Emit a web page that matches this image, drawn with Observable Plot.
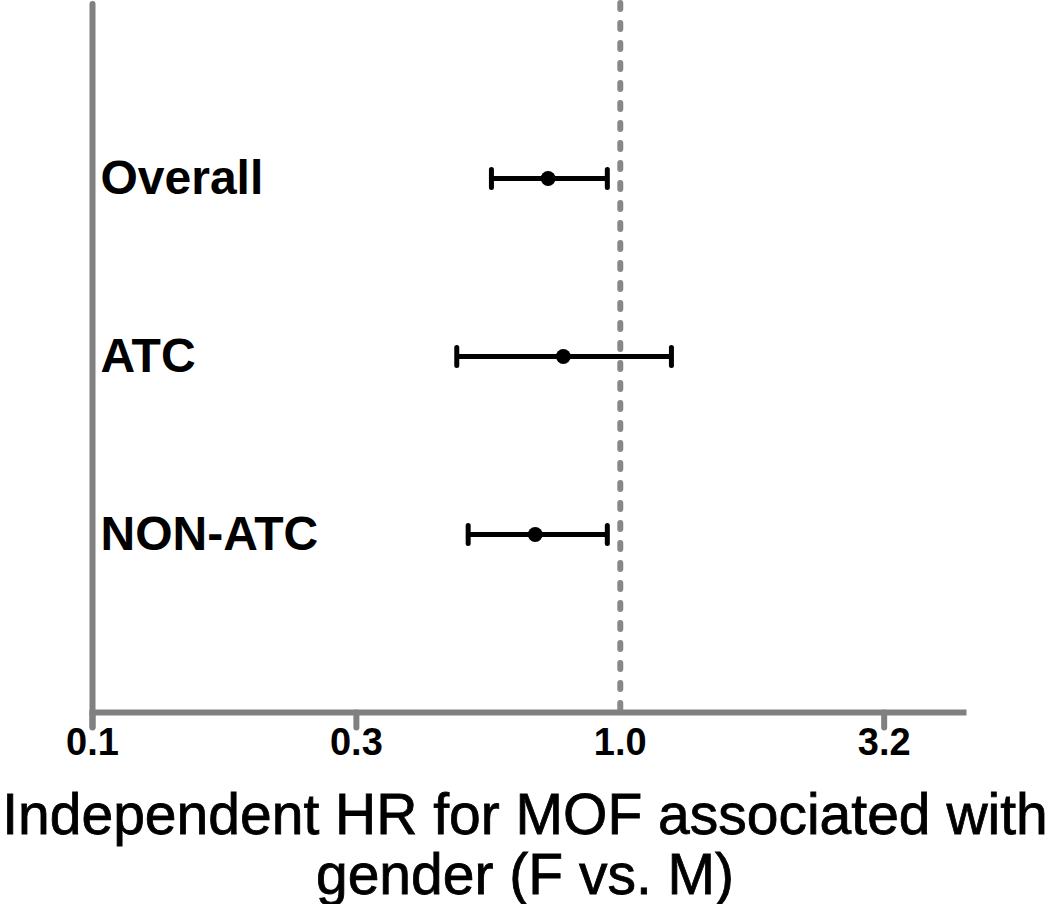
<!DOCTYPE html>
<html>
<head>
<meta charset="utf-8">
<script src="https://cdn.jsdelivr.net/npm/d3@7"></script>
<script src="https://cdn.jsdelivr.net/npm/@observablehq/plot@0.6"></script>
<style>
  body { margin: 0; background: #fff; }
  #chart svg { overflow: visible; display: block; }
  #title { width: 1050px; text-align: center; font-family: "Liberation Sans", Arial, sans-serif; font-size: 57px; line-height: 60px; color: #000; margin-top: 14px; -webkit-text-stroke: 0.8px #000; }
</style>
</head>
<body>
<div id="chart"></div>
<div id="title">Independent HR for MOF associated with<br>gender (F vs. M)</div>
<script>
const categories = ["Overall", "ATC", "NON-ATC"];
const hr    = [0.73, 0.78, 0.69];
const lower = [0.57, 0.49, 0.515];
const upper = [0.945, 1.25, 0.945];
const tickValues = [0.1, Math.pow(10, -0.5), 1, Math.pow(10, 0.5)];
const tickLabels = ["0.1", "0.3", "1.0", "3.2"];
const tickMarkValues = [0.1, Math.pow(10, -0.5), Math.pow(10, 0.5)];
const refValue = 1;
const xDomain = [0.1, 4.47];

const rows = categories.map((c, i) => ({cat: c, hr: hr[i], lo: lower[i], hi: upper[i]}));
const ticks = tickValues.map((v, i) => ({v, label: tickLabels[i]}));
const gray = "#808080";

// vertical bar symbol for whisker caps (centered)
const capSymbol = {
  draw(context, size) {
    const h = Math.sqrt(size / Math.PI);
    context.moveTo(0, -h);
    context.lineTo(0, h);
  }
};
// downward tick symbol for axis ticks
const tickSymbol = {
  draw(context, size) {
    const h = Math.sqrt(size / Math.PI);
    context.moveTo(0, 0);
    context.lineTo(0, h);
  }
};

const chart = Plot.plot({
  width: 1050,
  height: 770,
  marginLeft: 92,
  marginRight: 87,
  marginTop: 0,
  marginBottom: 58,
  style: {fontFamily: "'Liberation Sans', Arial, sans-serif", background: "#fff"},
  x: {type: "log", domain: xDomain, axis: null},
  y: {type: "point", domain: categories, padding: 1, axis: null},
  marks: [
    Plot.ruleX([refValue], {stroke: "#888", strokeWidth: 6, strokeDasharray: "6,14", strokeLinecap: "round", insetTop: 3}),
    Plot.frame({anchor: "bottom", stroke: gray, strokeWidth: 6}),
    Plot.ruleX([0.1], {stroke: gray, strokeWidth: 6, strokeLinecap: "round", insetTop: 4, insetBottom: -15}),
    Plot.text(ticks, {x: "v", text: "label", frameAnchor: "bottom", lineAnchor: "top", dy: 16,
      fontSize: 38, fontWeight: "bold", fill: "#000",
      fontFamily: "'Liberation Sans Narrow', 'Liberation Sans', Arial, sans-serif"}),
    Plot.dot(tickMarkValues, {x: d => d, frameAnchor: "bottom", symbol: tickSymbol, r: 15, fill: "none", stroke: gray, strokeWidth: 6, strokeLinecap: "round"}),
    Plot.ruleY(rows, {y: "cat", x1: "lo", x2: "hi", stroke: "#000", strokeWidth: 5}),
    Plot.dot(rows, {x: "lo", y: "cat", symbol: capSymbol, r: 9, fill: "none", stroke: "#000", strokeWidth: 5, strokeLinecap: "round"}),
    Plot.dot(rows, {x: "hi", y: "cat", symbol: capSymbol, r: 9, fill: "none", stroke: "#000", strokeWidth: 5, strokeLinecap: "round"}),
    Plot.dot(rows, {x: "hr", y: "cat", r: 7.5, fill: "#000", stroke: "none"}),
    Plot.text(rows, {x: () => 0.1, y: "cat", text: "cat", textAnchor: "start", dx: 8, fontSize: 48, fontWeight: "bold", fill: "#000"})
  ]
});
document.getElementById("chart").appendChild(chart);
</script>
</body>
</html>
